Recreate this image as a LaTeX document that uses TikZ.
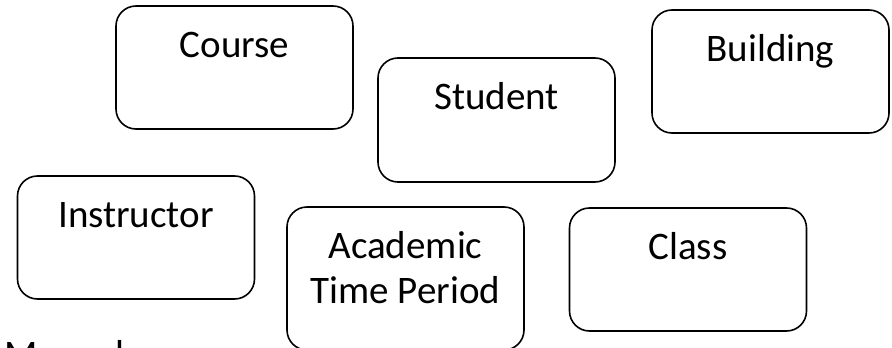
\documentclass[tikz,border=0pt]{standalone}
\usepackage{fontspec}
\setmainfont{Carlito}
\usepackage{tikz}
\usetikzlibrary{positioning}

\tikzset{
  entity/.style={draw, line width=1.6pt, rounded corners=20pt, minimum width=237pt, minimum height=123pt, inner sep=0pt},
  title/.style={font=\fontsize{39}{45}\selectfont, inner sep=0pt, align=center, anchor=base},
}

\begin{document}
\begin{tikzpicture}[x=1pt, y=1pt]
    \useasboundingbox (0,0) rectangle (892,-348);

    % Boxes
    \node[entity] (course) at (234.5,-67.5) {};
    \node[entity, minimum height=124pt] (student) at (496.5,-120) {};
    \node[entity] (building) at (770.5,-71.5) {};
    \node[entity] (instructor) at (136,-237.5) {};
    \node[entity, minimum height=143pt] (academic) at (405.5,-278.5) {};
    \node[entity] (class) at (688,-269.5) {};

    % Titles
    \node[title] (courseT) at ([yshift=-52pt]course.north) {Course};
    \node[title] (studentT) at ([yshift=-52pt]student.north) {Student};
    \node[title] (buildingT) at ([yshift=-52pt]building.north) {Building};
    \node[title] (instructorT) at ([yshift=-52pt]instructor.north) {Instructor};
    \node[title] (academicT) at ([yshift=-97pt]academic.north) {Academic\\Time Period};
    \node[title] (classT) at ([yshift=-52pt]class.north) {Class};

    % cut-off text
    \node[title, anchor=base west] (manual) at (4,-367) {Manual};
\end{tikzpicture}
\end{document}
